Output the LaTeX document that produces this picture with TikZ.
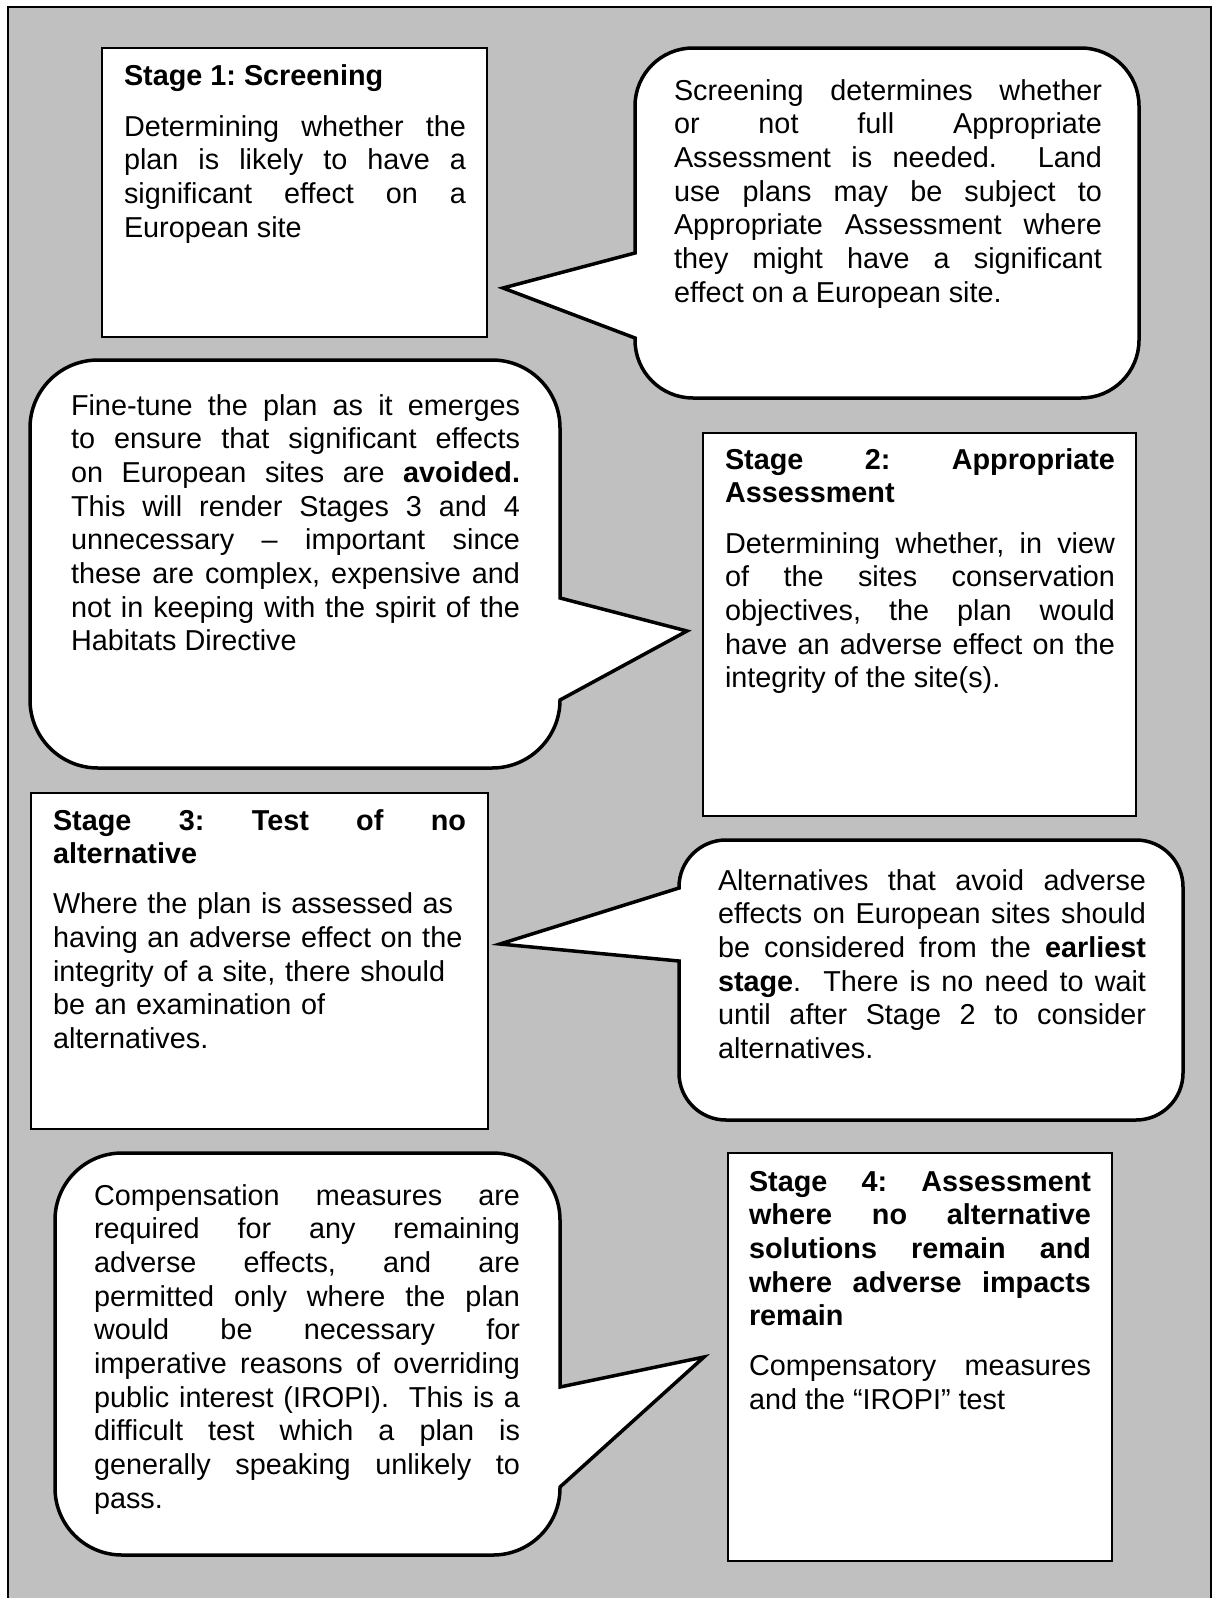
\documentclass[tikz,border=0pt]{standalone}
\usepackage{fontspec}
\setmainfont{Liberation Sans}
\definecolor{bggray}{RGB}{192,192,192}
\newcommand{\bodyfont}{\fontsize{28.8pt}{33.7pt}\selectfont\frenchspacing\tolerance=10000\hbadness=10000\hyphenpenalty=10000\exhyphenpenalty=10000\relax}
\tikzset{
  outerframe/.style={draw=black, fill=bggray, line width=2pt},
  stagebox/.style={draw=black, fill=white, line width=2pt},
  bubble/.style={draw=black, fill=white, line width=3.5pt, line join=miter, miter limit=10},
  txt/.style={anchor=base west, inner sep=0pt, outer sep=0pt, align=justify, font=\bodyfont},
  ttl/.style={txt, font=\bodyfont\bfseries},
}
% bubble with tail on the left side
% #1 x1, #2 y1, #3 x2, #4 y2, #5 r, #6 ya, #7 yb, #8 tx, #9 ty
\newcommand{\bubbleleft}[9]{%
  \draw[bubble] ({#1+#5},#2) -- ({#3-#5},#2)
    arc[start angle=270,end angle=360,radius=#5] -- (#3,{#4-#5})
    arc[start angle=0,end angle=90,radius=#5] -- ({#1+#5},#4)
    arc[start angle=90,end angle=180,radius=#5] -- (#1,#7) -- (#8,#9) -- (#1,#6) -- (#1,{#2+#5})
    arc[start angle=180,end angle=270,radius=#5] -- cycle;}
% bubble with tail on the right side
\newcommand{\bubbleright}[9]{%
  \draw[bubble] ({#1+#5},#2) -- ({#3-#5},#2)
    arc[start angle=270,end angle=360,radius=#5] -- (#3,#6) -- (#8,#9) -- (#3,#7) -- (#3,{#4-#5})
    arc[start angle=0,end angle=90,radius=#5] -- ({#1+#5},#4)
    arc[start angle=90,end angle=180,radius=#5] -- (#1,{#2+#5})
    arc[start angle=180,end angle=270,radius=#5] -- cycle;}
\begin{document}
\begin{tikzpicture}[x=1pt, y=-1pt]
\useasboundingbox (0,0) rectangle (1213,1598);
\path[outerframe] (8,7) rectangle (1211,1640);

% Stage boxes
\path[stagebox] (102,48) rectangle (487,337);
\path[stagebox] (703,433) rectangle (1136,816);
\path[stagebox] (31,793) rectangle (488,1129);
\path[stagebox] (728,1153) rectangle (1112,1561);

% Callout bubbles
\bubbleleft{635}{48}{1139}{398}{58}{253}{338}{503}{288}
\bubbleright{30}{360}{560}{768}{68}{598}{700}{687}{631}
\bubbleleft{679}{840}{1183}{1120}{47}{888}{961}{500}{944}
\bubbleright{55}{1153}{560}{1555}{67}{1387}{1487}{704}{1357}

% Stage 1
\node[ttl, text width=342pt] (s1title) at (124,85) {Stage 1: Screening};
\node[txt, text width=342pt] (s1body) at (124,136) {Determining whether the\linebreak plan is likely to have a\linebreak significant effect on a\linebreak European site};

% Bubble 1
\node[txt, text width=428pt] (b1text) at (674,100) {Screening determines whether\linebreak or not full Appropriate\linebreak Assessment is needed.\ \ Land\linebreak use plans may be subject to\linebreak Appropriate Assessment where\linebreak they might have a significant\linebreak effect on a European site.};

% Bubble 2
\node[txt, text width=449pt] (b2text) at (71,415) {Fine-tune the plan as it emerges\linebreak to ensure that significant effects\linebreak on European sites are \textbf{avoided.}\linebreak This will render Stages 3 and 4\linebreak unnecessary – important since\linebreak these are complex, expensive and\linebreak not in keeping with the spirit of the\linebreak Habitats Directive};

% Stage 2
\node[ttl, text width=390pt] (s2title) at (725,469) {Stage 2: Appropriate\linebreak Assessment};
\node[txt, text width=390pt] (s2body) at (725,553) {Determining whether, in view\linebreak of the sites conservation\linebreak objectives, the plan would\linebreak have an adverse effect on the\linebreak integrity of the site(s).};

% Stage 3
\node[ttl, text width=413pt] (s3title) at (53,830) {Stage 3: Test of no\linebreak alternative};
\node[txt, text width=428pt, align=left] (s3body) at (53,913.7) {Where the plan is assessed as\\ having an adverse effect on the\\ integrity of a site, there should\\ be an examination of\\ alternatives.};

% Bubble 3
\node[txt, text width=428pt] (b3text) at (718,890) {Alternatives that avoid adverse\linebreak effects on European sites should\linebreak be considered from the \textbf{earliest}\linebreak \textbf{stage}.\ \ There is no need to wait\linebreak until after Stage 2 to consider\linebreak alternatives.};

% Bubble 4
\node[txt, text width=426pt] (b4text) at (94,1205) {Compensation measures are\linebreak required for any remaining\linebreak adverse effects, and are\linebreak permitted only where the plan\linebreak would be necessary for\linebreak imperative reasons of overriding\linebreak public interest (IROPI).\ \ This is a\linebreak difficult test which a plan is\linebreak generally speaking unlikely to\linebreak pass.};

% Stage 4
\node[ttl, text width=342pt] (s4title) at (749,1191) {Stage 4: Assessment\linebreak where no alternative\linebreak solutions remain and\linebreak where adverse impacts\linebreak remain};
\node[txt, text width=342pt] (s4body) at (749,1375.5) {Compensatory measures\linebreak and the “IROPI” test};
\end{tikzpicture}
\end{document}
